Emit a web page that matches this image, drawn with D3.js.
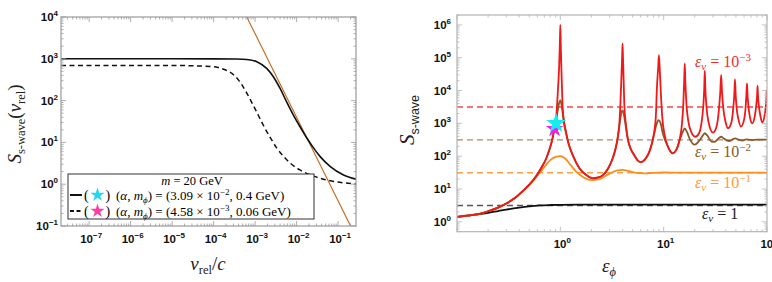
<!DOCTYPE html>
<html>
<head>
<meta charset="utf-8">
<script src="https://cdn.jsdelivr.net/npm/d3@7"></script>
<style>
  body { margin: 0; background: #fff; }
  text { font-family: "Liberation Serif", "DejaVu Serif", serif; }
  .tick-label { font-family: "Liberation Sans", Arial, sans-serif; font-weight: bold; }
</style>
</head>
<body>
<div id="chart"></div>
<script>
// ---- left panel data: Sommerfeld factor vs v_rel/c ----
const solidV = [2.1e-8, 1e-6, 1e-5, 1e-4, 3.6e-4, 6.3e-4, 1.1e-3, 1.9e-3, 2.75e-3, 4e-3, 5.75e-3, 8.3e-3, 1.2e-2, 1.78e-2, 2.5e-2, 3.7e-2, 6.5e-2, 0.135, 0.27];
const solidS = [1000, 1000, 1000, 998, 990, 965, 851, 589, 372, 195, 93, 45.7, 24, 12.6, 7.6, 4.57, 2.63, 1.66, 1.32];
const dashedV = [2.1e-8, 1e-6, 1.55e-5, 1e-4, 1.74e-4, 2.75e-4, 4e-4, 5.75e-4, 7.6e-4, 1.1e-3, 1.58e-3, 2.3e-3, 3.3e-3, 4.8e-3, 6.9e-3, 1.2e-2, 2.5e-2, 5.4e-2, 0.135, 0.3];
const dashedS = [690, 690, 688, 646, 562, 447, 309, 178, 107, 52.5, 25.7, 13.2, 7.4, 4.7, 3.24, 2.19, 1.58, 1.26, 1.08, 1.0];
const coulombV = [6.3e-4, 0.2];
const coulombS = [1e4, 0.1];

// ---- right panel data: S vs eps_phi for several eps_v ----
const epsVLabels = ["1", "10^-1", "10^-2", "10^-3"];
const coulombLimit = [3.14, 31.4, 314, 3140];
const curveBlack = [[0.1,1.42],[0.13,1.55],[0.16,1.7],[0.2,1.88],[0.25,2.12],[0.3,2.35],[0.4,2.7],[0.5,2.95],[0.63,3.15],[0.8,3.25],[1,3.3],[1.5,3.32],[3,3.33],[100,3.33]];
const curveOrange = [[0.1,1.42],[0.13,1.56],[0.16,1.73],[0.2,2.1],[0.25,2.7],[0.3,3.6],[0.36,5.2],[0.43,8.4],[0.5,13],[0.58,22],[0.66,37],[0.73,55],[0.8,76],[0.9,95],[1,100],[1.1,88],[1.25,55],[1.45,32],[1.7,22],[2,18.6],[2.4,20],[2.9,28],[3.5,36],[4,38],[4.6,35],[5.5,31],[6.5,30],[8,31.2],[10,31.8],[15,31.4],[100,31.4]];
const curveBrown = [[0.1,1.42],[0.13,1.56],[0.16,1.73],[0.2,2.1],[0.25,2.7],[0.3,3.6],[0.36,5.2],[0.43,8.5],[0.5,13.5],[0.58,24],[0.66,46],[0.73,85],[0.79,170],[0.84,340],[0.88,700],[0.93,1800],[0.97,4000],[1,5000],[1.03,3500],[1.08,1100],[1.135,500],[1.2,240],[1.32,105],[1.53,43],[1.75,28],[2.05,21],[2.3,22],[2.57,26],[2.9,42],[3.2,82],[3.4,150],[3.6,400],[3.8,1300],[3.92,2300],[4,2500],[4.1,2000],[4.3,800],[4.49,330],[4.8,165],[5.2,105],[5.6,74],[6.04,65],[6.6,79],[7.25,133],[7.7,240],[8.1,480],[8.5,900],[8.9,1250],[9.3,1050],[9.8,500],[10.5,270],[11.2,170],[12.2,122],[13.5,180],[14.5,350],[15.5,600],[16,700],[16.8,550],[18,320],[20,225],[22,290],[24,430],[25,500],[26.5,420],[29,280],[31,275],[34,350],[36,390],[39,330],[43,290],[47,330],[49,350],[53,320],[58,300],[63,325],[70,310],[80,320],[100,316]];
const curveRed = [[0.1,1.42],[0.13,1.56],[0.16,1.73],[0.2,2.1],[0.25,2.7],[0.3,3.6],[0.36,5.2],[0.43,8.5],[0.5,13.5],[0.58,24],[0.66,46],[0.73,85],[0.79,170],[0.84,350],[0.88,780],[0.91,1400],[0.95,11700],[0.975,6e4],[0.99,3e5],[1,1e6],[1.01,2.5e5],[1.025,4e4],[1.05,3600],[1.08,1300],[1.135,550],[1.2,250],[1.32,107],[1.53,43],[1.75,28],[2.05,21.4],[2.3,22.5],[2.57,26],[2.9,42],[3.2,85],[3.4,160],[3.59,350],[3.72,900],[3.81,3600],[3.9,2.5e4],[3.96,1e5],[4,2.7e5],[4.04,1e5],[4.1,2e4],[4.16,3600],[4.3,1000],[4.49,350],[4.8,170],[5.2,107],[5.6,75],[6.04,66],[6.6,80],[7.25,135],[7.7,250],[8.1,550],[8.4,1600],[8.6,11700],[8.85,5e4],[9,1.2e5],[9.15,5e4],[9.4,8000],[9.7,1500],[10.2,450],[11,200],[12.2,121],[13.2,150],[14.2,300],[15,900],[15.5,4000],[15.8,2e4],[16,6.7e4],[16.2,2e4],[16.6,4000],[17.3,1200],[18.5,550],[20.2,390],[22,500],[23.2,1000],[24.2,3500],[24.7,1.2e4],[25,4e4],[25.3,1.2e4],[25.9,3500],[27,1200],[30,520],[32.5,800],[34.2,2500],[35.3,9000],[36,3e4],[36.7,9000],[37.8,2800],[39.5,1200],[42,710],[45,1000],[47.2,3000],[48.3,8000],[49,2.2e4],[49.7,8000],[50.8,3000],[53,1300],[56,800],[60,1300],[62.3,3500],[63.2,7500],[64,1.66e4],[64.8,7500],[66,3500],[68.5,1500],[72,1000],[76,1600],[79,4000],[80.2,7000],[81,1.4e4],[81.8,7000],[83,4000],[86,1800],[90,1070],[95,1800],[98,4000],[99.2,7000],[100,1.05e4]];
const starCyan = [0.91, 1000];
const starMagenta = [0.88, 680];

const width = 772, height = 282;
const svg = d3.select("#chart").append("svg")
  .attr("width", width).attr("height", height)
  .attr("viewBox", [0, 0, width, height]);

// log tick helper: majors at powers of ten, minors 2..9
function logTicks(lo, hi) {
  const major = [], minor = [];
  for (let p = Math.floor(Math.log10(lo)) - 1; p <= Math.ceil(Math.log10(hi)); p++) {
    for (let k = 1; k <= 9; k++) {
      const v = k * Math.pow(10, p);
      if (v < lo * 0.999 || v > hi * 1.001) continue;
      (k === 1 ? major : minor).push(v);
    }
  }
  return {major, minor};
}

const expText = v => { const p = Math.round(Math.log10(v)); return p < 0 ? "−" + (-p) : String(p); };

function pow10Label(g, x, y, p, anchor) {
  const t = g.append("text").attr("class", "tick-label")
    .attr("x", x).attr("y", y).attr("text-anchor", anchor)
    .attr("font-size", 11.5).attr("fill", "#111");
  t.append("tspan").text("10");
  t.append("tspan").attr("dy", -5).attr("font-size", 8).text(p);
}

function frame(g, x, y, color) {
  const [x0, x1] = x.range(), [y0, y1] = y.range();
  const xt = logTicks(...x.domain()), yt = logTicks(...y.domain());
  const tk = g.append("g").attr("stroke", color).attr("stroke-width", 0.8);
  xt.major.forEach(v => {
    tk.append("line").attr("x1", x(v)).attr("x2", x(v)).attr("y1", y0).attr("y2", y0 - 5);
    tk.append("line").attr("x1", x(v)).attr("x2", x(v)).attr("y1", y1).attr("y2", y1 + 5);
  });
  xt.minor.forEach(v => {
    tk.append("line").attr("x1", x(v)).attr("x2", x(v)).attr("y1", y0).attr("y2", y0 - 2.5);
    tk.append("line").attr("x1", x(v)).attr("x2", x(v)).attr("y1", y1).attr("y2", y1 + 2.5);
  });
  yt.major.forEach(v => {
    tk.append("line").attr("x1", x0).attr("x2", x0 + 5).attr("y1", y(v)).attr("y2", y(v));
    tk.append("line").attr("x1", x1).attr("x2", x1 - 5).attr("y1", y(v)).attr("y2", y(v));
  });
  yt.minor.forEach(v => {
    tk.append("line").attr("x1", x0).attr("x2", x0 + 2.5).attr("y1", y(v)).attr("y2", y(v));
    tk.append("line").attr("x1", x1).attr("x2", x1 - 2.5).attr("y1", y(v)).attr("y2", y(v));
  });
  g.append("rect").attr("x", x0).attr("y", y1).attr("width", x1 - x0).attr("height", y0 - y1)
    .attr("fill", "none").attr("stroke", color).attr("stroke-width", 1.2);
  return {xt, yt};
}

// ================= left panel =================
const xL = d3.scaleLog().domain([2.1e-8, 0.27]).range([61, 356]);
const yL = d3.scaleLog().domain([0.1, 1e4]).range([226, 17]);

svg.append("clipPath").attr("id", "clipL").append("rect")
  .attr("x", 61).attr("y", 17).attr("width", 295).attr("height", 209);

const gL = svg.append("g");
const lineL = d3.line().x(d => xL(d[0])).y(d => yL(d[1])).curve(d3.curveMonotoneX);
const plotL = gL.append("g").attr("clip-path", "url(#clipL)");

plotL.append("path").attr("d", lineL(d3.zip(coulombV, coulombS)))
  .attr("fill", "none").attr("stroke", "#c0661c").attr("stroke-width", 1.1);
plotL.append("path").attr("d", lineL(d3.zip(dashedV, dashedS)))
  .attr("fill", "none").attr("stroke", "#111").attr("stroke-width", 1.5).attr("stroke-dasharray", "5,3.5");
plotL.append("path").attr("d", lineL(d3.zip(solidV, solidS)))
  .attr("fill", "none").attr("stroke", "#111").attr("stroke-width", 1.6);

const tl = frame(gL, xL, yL, "#9a9a9a");
tl.xt.major.forEach(v => pow10Label(gL, xL(v) + 2, 243, expText(v), "middle"));
tl.yt.major.forEach(v => pow10Label(gL, 58, yL(v) + 4, expText(v), "end"));

// legend
const leg = gL.append("g");
leg.append("rect").attr("x", 68).attr("y", 174).attr("width", 246).attr("height", 45)
  .attr("fill", "#fff").attr("stroke", "#333").attr("stroke-width", 1);
const t0 = leg.append("text").attr("x", 192).attr("y", 184.5).attr("text-anchor", "middle").attr("font-size", 12.5);
t0.append("tspan").attr("font-style", "italic").text("m");
t0.append("tspan").text(" = 20 GeV");

const starSym = d3.symbol().type(d3.symbolStar);
function legendRow(yc, dash, starColor, alpha, exp, mphi) {
  leg.append("line").attr("x1", 70).attr("x2", 82).attr("y1", yc).attr("y2", yc)
    .attr("stroke", "#111").attr("stroke-width", 2).attr("stroke-dasharray", dash);
  leg.append("text").attr("x", 84).attr("y", yc + 4.5).attr("font-size", 14).text("(");
  leg.append("path").attr("d", starSym.size(62)()).attr("transform", `translate(97.5,${yc})`).attr("fill", starColor);
  leg.append("text").attr("x", 105.5).attr("y", yc + 4.5).attr("font-size", 14).text(")");
  const t = leg.append("text").attr("x", 116).attr("y", yc + 4.5).attr("font-size", 13);
  t.append("tspan").text("(");
  t.append("tspan").attr("font-style", "italic").text("α");
  t.append("tspan").text(", ");
  t.append("tspan").attr("font-style", "italic").text("m");
  t.append("tspan").attr("font-style", "italic").attr("font-size", 9).attr("dy", 3).text("ϕ");
  t.append("tspan").attr("dy", -3).text(") = (" + alpha + " × 10");
  t.append("tspan").attr("font-size", 9).attr("dy", -5).text(exp);
  t.append("tspan").attr("dy", 5).text(", " + mphi + " GeV)");
}
legendRow(195, null, "#22d8ee", "3.09", "−2", "0.4");
legendRow(211, "4,2.5", "#ff3fa0", "4.58", "−3", "0.06");

// axis titles
const yt1 = gL.append("text").attr("transform", "translate(21,124) rotate(-90)")
  .attr("text-anchor", "middle").attr("font-size", 19).attr("fill", "#222");
yt1.append("tspan").attr("font-style", "italic").text("S");
yt1.append("tspan").attr("font-size", 12.5).attr("dy", 4).text("s-wave");
yt1.append("tspan").attr("dy", -4).text("(");
yt1.append("tspan").attr("font-style", "italic").text("v");
yt1.append("tspan").attr("font-size", 12.5).attr("dy", 4).text("rel");
yt1.append("tspan").attr("dy", -4).text(")");

const xt1 = gL.append("text").attr("x", 208).attr("y", 270)
  .attr("text-anchor", "middle").attr("font-size", 19).attr("fill", "#222");
xt1.append("tspan").attr("font-style", "italic").text("v");
xt1.append("tspan").attr("font-size", 12.5).attr("dy", 4).text("rel");
xt1.append("tspan").attr("dy", -4).text("/");
xt1.append("tspan").attr("font-style", "italic").text("c");

// ================= right panel =================
const xR = d3.scaleLog().domain([0.1, 100]).range([457, 767]);
const yR = d3.scaleLog().domain([0.5, 2e6]).range([231.7, 15]);

svg.append("clipPath").attr("id", "clipR").append("rect")
  .attr("x", 457).attr("y", 15).attr("width", 310).attr("height", 216.7);

const gR = svg.append("g");
const plotR = gR.append("g").attr("clip-path", "url(#clipR)");
const lineR = d3.line().x(d => xR(d[0])).y(d => yR(d[1])).curve(d3.curveMonotoneX);

const solidColors = ["#111", "#ff8c1a", "#8b5a2b", "#f01818"];
const dashColors = ["#555", "#ffa045", "#b08a66", "#f04848"];

coulombLimit.forEach((s, i) => {
  plotR.append("line").attr("x1", 457).attr("x2", 767).attr("y1", yR(s)).attr("y2", yR(s))
    .attr("stroke", dashColors[i]).attr("stroke-width", 1.4).attr("stroke-dasharray", "6,4");
});
[curveBlack, curveOrange, curveBrown, curveRed].forEach((c, i) => {
  plotR.append("path").attr("d", lineR(c)).attr("fill", "none")
    .attr("stroke", solidColors[i]).attr("stroke-width", 1.8).attr("stroke-linejoin", "round");
});

gR.append("path").attr("d", starSym.size(95)()).attr("transform", `translate(${xR(starMagenta[0])},${yR(starMagenta[1])})`).attr("fill", "#f020e8");
gR.append("path").attr("d", starSym.size(125)()).attr("transform", `translate(${xR(starCyan[0])},${yR(starCyan[1])})`).attr("fill", "#12eef0");

const tr = frame(gR, xR, yR, "#b4b4b4");
tr.xt.major.filter(v => v >= 1).forEach(v => pow10Label(gR, xR(v) + 2, 248, expText(v), "middle"));
tr.yt.major.forEach(v => pow10Label(gR, 451, yR(v) + 4, expText(v), "end"));

// eps_v annotations
const annY = [219, 188, 157, 67];
const annX = [702, 695, 695, 695];
const annColor = ["#222", "#ff9a35", "#8b5a2b", "#f03030"];
epsVLabels.forEach((lab, i) => {
  const t = gR.append("text").attr("x", annX[i]).attr("y", annY[i]).attr("font-size", 16).attr("fill", annColor[i]);
  t.append("tspan").attr("font-style", "italic").text("ε");
  t.append("tspan").attr("font-style", "italic").attr("font-size", 11).attr("dy", 3).text("v");
  const parts = lab.split("^");
  t.append("tspan").attr("dy", -3).text(" = " + parts[0]);
  if (parts[1]) t.append("tspan").attr("font-size", 11).attr("dy", -6).text(parts[1].replace("-", "−"));
});

const yt2 = gR.append("text").attr("transform", "translate(414,120) rotate(-90)")
  .attr("text-anchor", "middle").attr("fill", "#222");
yt2.append("tspan").attr("font-style", "italic").attr("font-size", 21).text("S");
yt2.append("tspan").attr("font-size", 12.5).attr("dy", 5)
  .style("font-family", "'Liberation Sans', Arial, sans-serif").text("s-wave");

const xt2 = gR.append("text").attr("x", 609).attr("y", 272)
  .attr("text-anchor", "middle").attr("font-size", 19).attr("fill", "#222");
xt2.append("tspan").attr("font-style", "italic").text("ε");
xt2.append("tspan").attr("font-style", "italic").attr("font-size", 12.5).attr("dy", 4).text("ϕ");
</script>
</body>
</html>
